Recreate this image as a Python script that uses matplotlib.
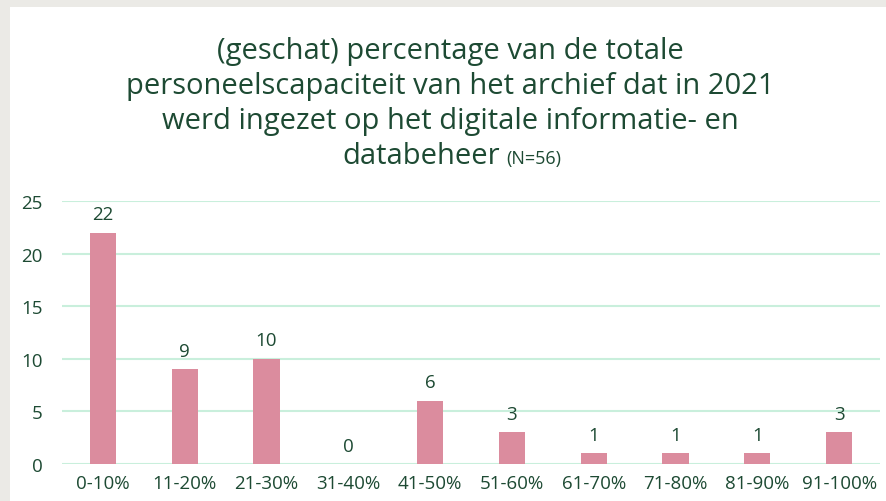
import matplotlib.pyplot as plt
from matplotlib.patches import Rectangle

categories = ['0-10%', '11-20%', '21-30%', '31-40%', '41-50%', '51-60%',
              '61-70%', '71-80%', '81-90%', '91-100%']
counts = [22, 9, 10, 0, 6, 3, 1, 1, 1, 3]
yticks = [0, 5, 10, 15, 20, 25]
title_lines = ['(geschat) percentage van de totale',
               'personeelscapaciteit van het archief dat in 2021',
               'werd ingezet op het digitale informatie- en']
title_last = 'databeheer'
title_n = '(N=56)'

text_col = '#1d4a33'
bar_col = '#db8c9e'
grid_col = '#c9efdc'

plt.rcParams['font.family'] = ['Open Sans', 'DejaVu Sans']

fig = plt.figure(figsize=(8.86, 5.02), dpi=100)
fig.patch.set_facecolor('#ebeae6')
# white panel
fig.patches.append(Rectangle((10 / 886, 0), 1, 1 - 8 / 502, transform=fig.transFigure,
                             facecolor='white', edgecolor='none', zorder=-5))

ax = fig.add_axes([62 / 886, (502 - 465) / 502, (880 - 62) / 886, (465 - 202) / 502])
ax.set_facecolor('none')
ax.set_zorder(2)

x = range(len(categories))
bars = ax.bar(x, counts, width=0.32, color=bar_col, zorder=3)
for xi, v in zip(x, counts):
    ax.text(xi, v + 0.9, str(v), ha='center', va='bottom', fontsize=13.5, color=text_col)

ax.set_xlim(-0.5, len(categories) - 0.5)
ax.set_ylim(0, 25)
ax.set_yticks(yticks)
ax.set_xticks(list(x))
ax.set_xticklabels(categories)
ax.tick_params(axis='both', length=0, labelsize=13.5, labelcolor=text_col)
ax.tick_params(axis='y', pad=14)
ax.tick_params(axis='x', pad=7)
ax.grid(axis='y', color=grid_col, linewidth=1.5, zorder=0)
for s in ax.spines.values():
    s.set_visible(False)

# title, line by line
baselines = [59, 94, 129]
for line, yb in zip(title_lines, baselines):
    fig.text(450 / 886, 1 - yb / 502, line, ha='center', va='baseline',
             fontsize=21, color=text_col)
t = fig.text(500 / 886, 1 - 164 / 502, title_last, ha='right', va='baseline',
             fontsize=21, color=text_col)
fig.text(506 / 886, 1 - 164 / 502, title_n, ha='left', va='baseline',
         fontsize=13, color=text_col)

plt.savefig('out.png', dpi=100, facecolor=fig.get_facecolor())
